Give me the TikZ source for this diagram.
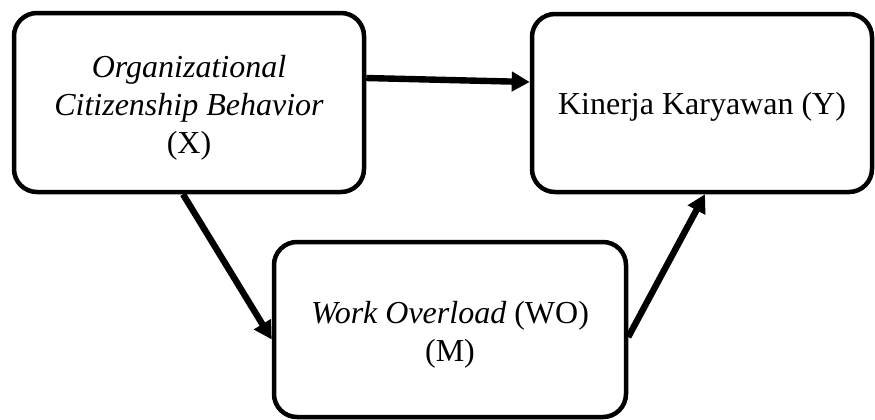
\documentclass[tikz,border=0pt]{standalone}
\usepackage{fontspec}
\setmainfont{Liberation Serif}
\usetikzlibrary{arrows.meta,calc}
\newcommand{\topstrut}{\rule{0pt}{16pt}}
\begin{document}
\begin{tikzpicture}[x=0.5pt,y=-0.5pt,
  box/.style={draw=black,line width=2.25pt,rounded corners=11.5pt,inner sep=0pt,align=center,
    font=\fontsize{16pt}{19pt}\selectfont},
  link/.style={line width=3.2pt,-{Triangle[length=9pt,width=9.5pt]}}]
\useasboundingbox (0,0) rectangle (875,419);
\node[box,minimum width=175pt,minimum height=89.5pt] (X) at (189,102.5)
  {\topstrut\textit{Organizational}\\\textit{Citizenship Behavior}\\(X)};
\node[box,minimum width=170pt,minimum height=89pt] (Y) at (702,103)
  {\rule{0pt}{15.4pt}Kinerja Karyawan (Y)};
\node[box,minimum width=176pt,minimum height=87.5pt] (M) at (450,329.5)
  {\topstrut\textit{Work Overload} (WO)\\(M)};
\draw[link] ($(X.east)+(0,-24.5)$) -- ($(Y.west)+(0,-21)$);
\draw[link] ($(X.south)+(-6,0)$) -- ($(M.west)+(0,10)$);
\draw[link] ($(M.east)+(0,7.5)$) -- ($(Y.south)+(3,0)$);
\end{tikzpicture}
\end{document}
